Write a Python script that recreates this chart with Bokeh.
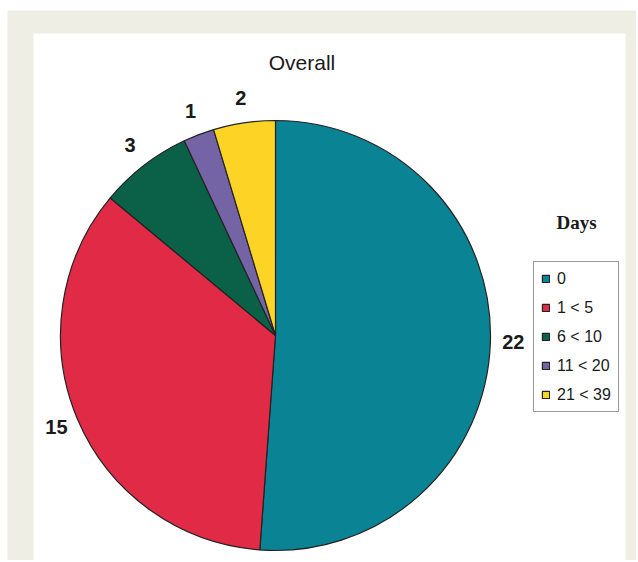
import math
from bokeh.plotting import figure
from bokeh.models import ColumnDataSource, Range1d, Label, Legend, LegendItem
from bokeh.core.properties import value
from bokeh.embed import file_html
from bokeh.resources import INLINE

# ---- data ----
categories = ["0", "1 < 5", "6 < 10", "11 < 20", "21 < 39"]
counts = [22, 15, 3, 1, 2]
colors = ["#0a8494", "#e02a46", "#0b6148", "#7464a6", "#fdd325"]
title_text = "Overall"
legend_title = "Days"

# ---- geometry (screen-like coordinates: y data = -screen y) ----
W, H = 636, 560
cx, cy, R = 275, -335, 215
label_r = 238

total = sum(counts)
starts, ends, mids = [], [], []
acc = 0
for c in counts:
    a0 = math.pi / 2 - acc / total * 2 * math.pi
    acc += c
    a1 = math.pi / 2 - acc / total * 2 * math.pi
    starts.append(a0)
    ends.append(a1)
    mids.append((a0 + a1) / 2)

lx = [cx + label_r * math.cos(m) for m in mids]
ly = [cy + label_r * math.sin(m) + 2 for m in mids]

src = ColumnDataSource(dict(start=starts, end=ends, color=colors, label=categories))
lsrc = ColumnDataSource(dict(x=lx, y=ly, text=[str(c) for c in counts]))

p = figure(width=W, height=H, output_backend="svg", toolbar_location=None,
           x_range=Range1d(0, W), y_range=Range1d(-H, 0),
           x_axis_type=None, y_axis_type=None,
           min_border_left=0, min_border_right=0, min_border_top=0, min_border_bottom=0)
p.border_fill_color = "white"
p.background_fill_color = "white"
p.outline_line_color = None
p.grid.visible = False

# panel background: beige frame with white inner panel
p.quad(left=7, right=W + 2, top=-10, bottom=-H - 2, fill_color="#efeee4", line_color=None)
p.quad(left=33, right=625, top=-33, bottom=-H - 2, fill_color="white", line_color=None)

r = p.wedge(x=cx, y=cy, radius=R, start_angle="start", end_angle="end",
            direction="clock", fill_color="color", line_color="#222222",
            line_width=1.2, source=src)

p.text(x="x", y="y", text="text", source=lsrc, text_font=value("Liberation Sans"),
       text_font_style="bold", text_font_size="20px", text_color="#1a1a1a",
       text_align="center", text_baseline="middle")

p.add_layout(Label(x=301.5, y=-62, text=title_text, text_font="Liberation Sans",
                   text_font_size="21px", text_color="#1a1a1a",
                   text_align="center", text_baseline="alphabetic"))
p.add_layout(Label(x=576, y=-222, text=legend_title, text_font="Liberation Serif",
                   text_font_style="bold", text_font_size="19px", text_color="#1a1a1a",
                   text_align="center", text_baseline="alphabetic"))

items = [LegendItem(label=categories[i], renderers=[r], index=i) for i in range(len(categories))]
legend = Legend(items=items, location=(533, H - 412), margin=0, padding=7,
                glyph_width=9, glyph_height=9, label_height=19, spacing=10,
                label_standoff=7, label_text_font="Liberation Sans",
                label_text_font_size="16px", label_text_color="#1a1a1a",
                border_line_color="#333333", border_line_width=1,
                background_fill_color="white", background_fill_alpha=1.0)
p.add_layout(legend)

open("out.html", "w").write(file_html(p, INLINE))
